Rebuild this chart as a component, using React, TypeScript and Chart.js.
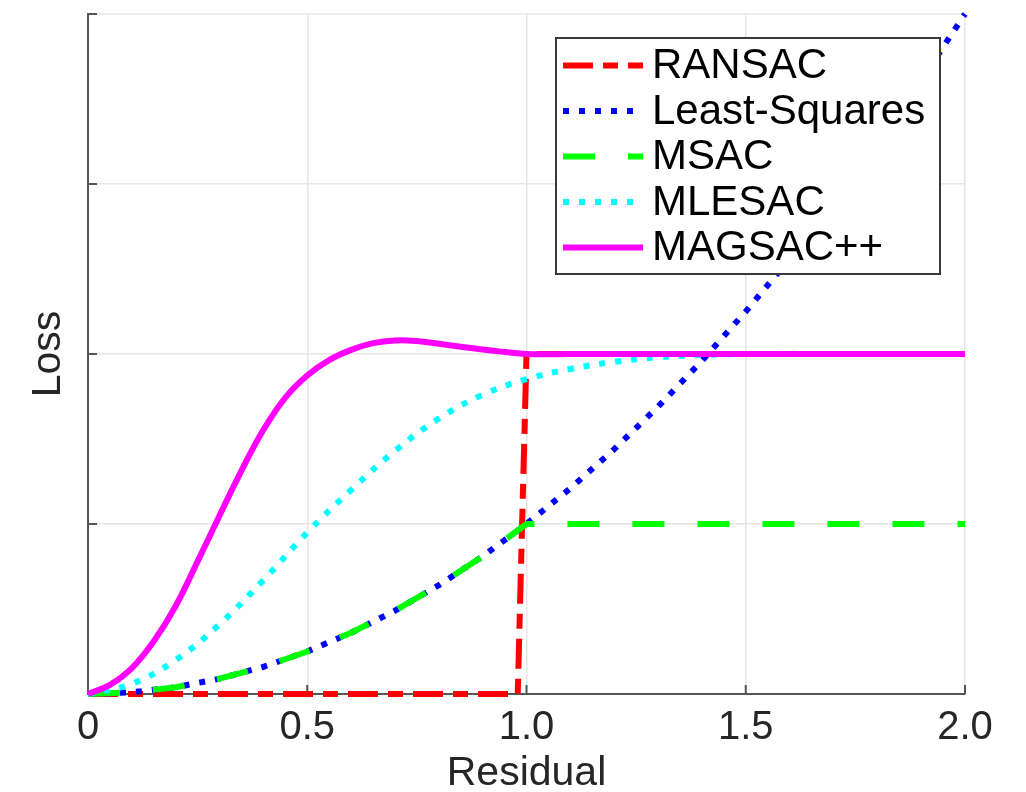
import React, { useEffect, useRef } from "react";
import { Chart, registerables } from "chart.js";

Chart.register(...registerables);

// ---- Data ----
const seriesNames = ["RANSAC", "Least-Squares", "MSAC", "MLESAC", "MAGSAC++"];
const seriesColors = ["#ff0000", "#0000ff", "#00ff00", "#00ffff", "#ff00ff"];

const xTickValues = [0, 0.5, 1.0, 1.5, 2.0];
const xTickLabels = ["0", "0.5", "1.0", "1.5", "2.0"];
const yTickValues = [0, 0.5, 1.0, 1.5, 2.0];

const ransacX = [0, 0.98, 1.0, 2.0];
const ransacY = [0, 0, 1.0, 1.0];

const lsX = [0, 0.1, 0.2, 0.3, 0.4, 0.5, 0.6, 0.7, 0.8, 0.9, 1.0, 1.1, 1.2, 1.3, 1.4, 1.5, 1.6, 1.7, 1.8, 1.9, 2.0];
const lsY = [0, 0.005, 0.02, 0.045, 0.08, 0.125, 0.18, 0.245, 0.32, 0.405, 0.5, 0.605, 0.72, 0.845, 0.98, 1.125, 1.28, 1.445, 1.62, 1.805, 2.0];

const msacX = [0, 0.1, 0.2, 0.3, 0.4, 0.5, 0.6, 0.7, 0.8, 0.9, 1.0, 2.0];
const msacY = [0, 0.005, 0.02, 0.045, 0.08, 0.125, 0.18, 0.245, 0.32, 0.405, 0.5, 0.5];

const mlesacX = [0, 0.1, 0.2, 0.3, 0.4, 0.5, 0.6, 0.7, 0.8, 0.9, 1.0, 1.1, 1.2, 1.3, 1.4, 1.5, 1.75, 2.0];
const mlesacY = [0, 0.03, 0.1, 0.205, 0.335, 0.475, 0.6, 0.715, 0.81, 0.88, 0.926, 0.956, 0.977, 0.99, 0.997, 1.0, 1.0, 1.0];

const magsacX = [0, 0.05, 0.1, 0.15, 0.2, 0.25, 0.3, 0.35, 0.4, 0.45, 0.5, 0.55, 0.6, 0.65, 0.7, 0.75, 0.8, 0.9, 0.95, 1.0, 1.1, 1.5, 2.0];
const magsacY = [0, 0.027, 0.076, 0.155, 0.259, 0.39, 0.525, 0.657, 0.777, 0.872, 0.937, 0.982, 1.012, 1.032, 1.04, 1.038, 1.03, 1.013, 1.006, 1.0, 1.0, 1.0, 1.0];

const dashes: number[][] = [[30, 10, 15, 10], [6, 10], [32, 33], [6, 10], []];
const tensions = [0, 0, 0, 0.4, 0.4];

const FONT = "'Liberation Sans', Arial, Helvetica, sans-serif";
const AXIS_COLOR = "#555555";
const TEXT_COLOR = "#262626";

function toPoints(xs: number[], ys: number[]) {
  return xs.map((x, i) => ({ x, y: ys[i] }));
}

const tickAndLegendPlugin = {
  id: "tickAndLegend",
  beforeDatasetsDraw(chart: any) {
    const { ctx, chartArea, scales } = chart;
    const xs = scales.x;
    const ys = scales.y;
    ctx.save();
    ctx.strokeStyle = AXIS_COLOR;
    ctx.lineWidth = 2;
    ctx.beginPath();
    xTickValues.forEach((v) => {
      const px = xs.getPixelForValue(v);
      ctx.moveTo(px, chartArea.bottom);
      ctx.lineTo(px, chartArea.bottom - 9);
    });
    yTickValues.forEach((v) => {
      const py = ys.getPixelForValue(v);
      ctx.moveTo(chartArea.left, py);
      ctx.lineTo(chartArea.left + 9, py);
    });
    ctx.stroke();
    ctx.restore();
  },
  afterDatasetsDraw(chart: any) {
    const { ctx, chartArea } = chart;
    const boxW = 384;
    const boxH = 236;
    const boxR = chartArea.right - 25;
    const boxL = boxR - boxW;
    const boxT = chartArea.top + 24;
    ctx.save();
    ctx.fillStyle = "#ffffff";
    ctx.fillRect(boxL, boxT, boxW, boxH);
    ctx.strokeStyle = "#3a3a3a";
    ctx.lineWidth = 2;
    ctx.strokeRect(boxL, boxT, boxW, boxH);
    const rowH = 45.5;
    const firstY = boxT + 27.5;
    seriesNames.forEach((name, i) => {
      const y = firstY + i * rowH;
      ctx.save();
      ctx.beginPath();
      ctx.rect(boxL + 7, y - 10, 81, 20);
      ctx.clip();
      ctx.strokeStyle = seriesColors[i];
      ctx.lineWidth = 6;
      ctx.lineCap = "butt";
      ctx.setLineDash(dashes[i]);
      ctx.beginPath();
      ctx.moveTo(boxL + 7, y);
      ctx.lineTo(boxL + 87, y);
      ctx.stroke();
      ctx.restore();
      ctx.fillStyle = "#000000";
      ctx.font = `42px ${FONT}`;
      ctx.textBaseline = "middle";
      ctx.textAlign = "left";
      ctx.fillText(name, boxL + 96, y + 1);
    });
    ctx.restore();
  },
};

export default function App() {
  const canvasRef = useRef<HTMLCanvasElement | null>(null);

  useEffect(() => {
    const canvas = canvasRef.current;
    if (!canvas) return;
    const xsList = [ransacX, lsX, msacX, mlesacX, magsacX];
    const ysList = [ransacY, lsY, msacY, mlesacY, magsacY];
    const orders = [5, 4, 3, 2, 1];
    const datasets = seriesNames.map((name, i) => ({
      label: name,
      data: toPoints(xsList[i], ysList[i]),
      borderColor: seriesColors[i],
      backgroundColor: seriesColors[i],
      borderWidth: 6,
      borderDash: dashes[i],
      borderCapStyle: "butt" as const,
      borderJoinStyle: "round" as const,
      pointRadius: 0,
      fill: false,
      tension: tensions[i],
      order: orders[i],
      clip: 10,
    }));

    const chart = new Chart(canvas, {
      type: "line",
      data: { datasets },
      options: {
        animation: false,
        responsive: false,
        layout: { padding: { left: 0, top: 14, right: 61, bottom: 0 } },
        plugins: {
          legend: { display: false },
          tooltip: { enabled: false },
        },
        scales: {
          x: {
            type: "linear",
            min: 0,
            max: 2,
            afterFit: (scale: any) => {
              scale.height = 98;
            },
            afterBuildTicks: (scale: any) => {
              scale.ticks = xTickValues.map((v) => ({ value: v }));
            },
            ticks: {
              padding: 10,
              color: TEXT_COLOR,
              font: { family: FONT, size: 40 },
              maxRotation: 0,
              autoSkip: false,
              callback: (value: any) => {
                const idx = xTickValues.indexOf(Number(value));
                return idx >= 0 ? xTickLabels[idx] : "";
              },
            },
            grid: { color: "#e6e6e6", lineWidth: 1.5, drawTicks: false },
            border: { display: true, color: AXIS_COLOR, width: 2 },
            title: {
              display: true,
              text: "Residual",
              color: TEXT_COLOR,
              font: { family: FONT, size: 41, lineHeight: 0.9 },
              padding: 0,
            },
          },
          y: {
            type: "linear",
            min: 0,
            max: 2,
            afterFit: (scale: any) => {
              scale.width = 88;
            },
            afterBuildTicks: (scale: any) => {
              scale.ticks = yTickValues.map((v) => ({ value: v }));
            },
            ticks: { display: false },
            grid: { color: "#e6e6e6", lineWidth: 1.5, drawTicks: false },
            border: { display: true, color: AXIS_COLOR, width: 2 },
            title: {
              display: true,
              text: "Loss",
              color: TEXT_COLOR,
              font: { family: FONT, size: 41, lineHeight: 0.9 },
              padding: { top: 30, bottom: 0 },
            },
          },
        },
      },
      plugins: [tickAndLegendPlugin],
    });
    return () => chart.destroy();
  }, []);

  return (
    <div style={{ position: "absolute", left: 0, top: 0, width: 1026, height: 792, background: "#ffffff" }}>
      <canvas ref={canvasRef} width={1026} height={792} />
    </div>
  );
}
